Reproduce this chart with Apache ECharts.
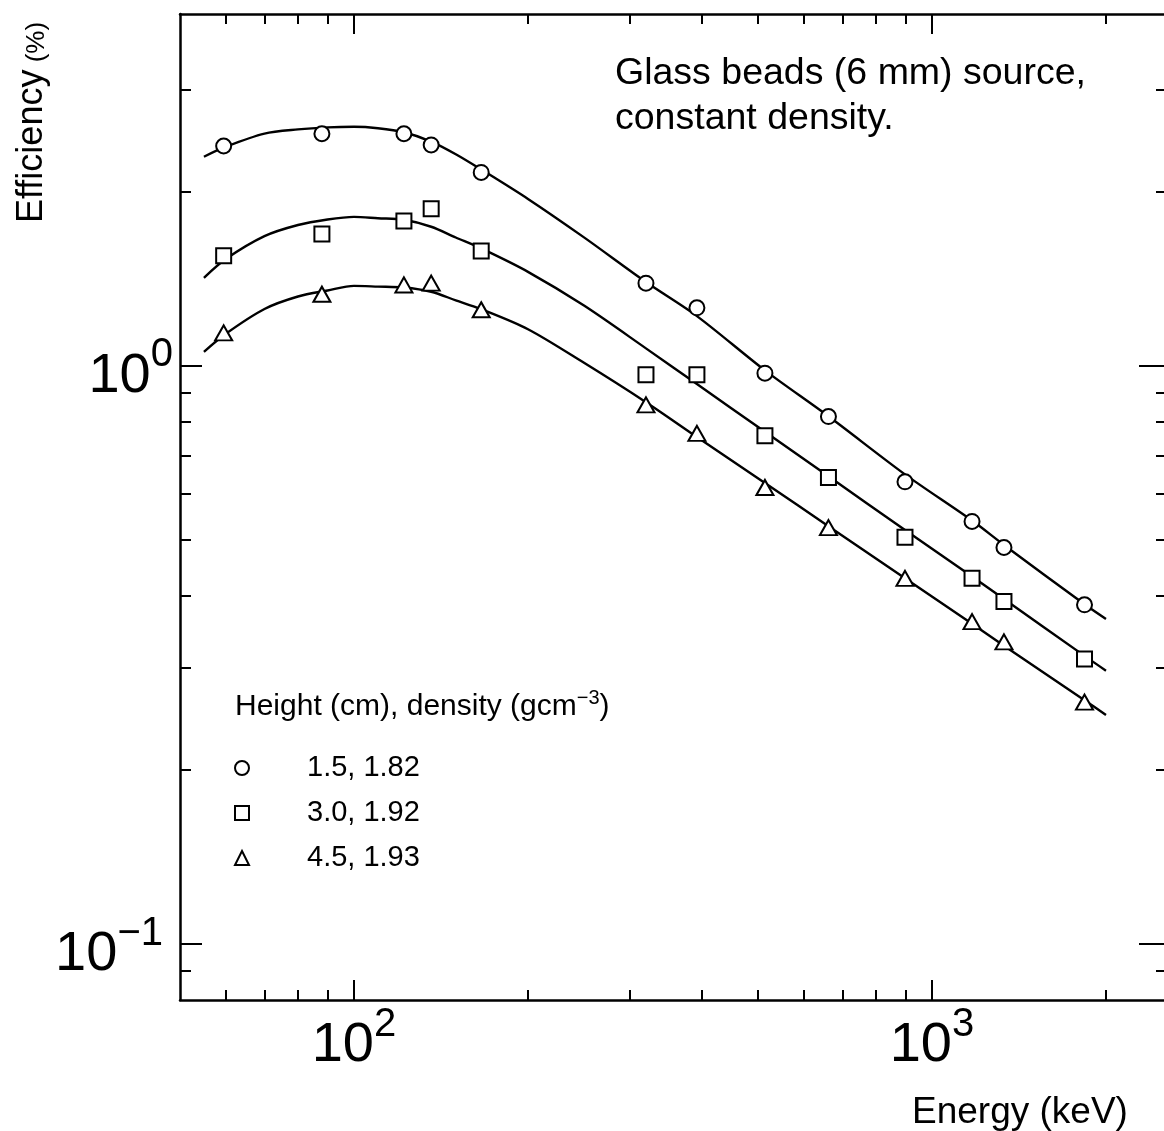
<!DOCTYPE html>
<html><head><meta charset="utf-8">
<script src="https://cdn.jsdelivr.net/npm/echarts@6/dist/echarts.min.js"></script>
<style>html,body{margin:0;padding:0;background:#fff;overflow:hidden}#c{width:1164px;height:1131px}</style>
</head><body><div id="c"></div>
<script>
// ---- data ----
const energies = [59.5, 88, 122, 136, 166, 320, 392, 514, 662, 898, 1173, 1332, 1836];
const eff_h15 = [2.40, 2.52, 2.52, 2.41, 2.16, 1.39, 1.26, 0.971, 0.817, 0.630, 0.538, 0.485, 0.386];
const eff_h30 = [1.55, 1.69, 1.78, 1.87, 1.58, 0.965, 0.965, 0.757, 0.641, 0.505, 0.429, 0.391, 0.311];
const eff_h45 = [1.14, 1.33, 1.38, 1.39, 1.25, 0.856, 0.764, 0.616, 0.525, 0.429, 0.361, 0.333, 0.262];
const fitEnergies = [55, 60, 70, 80, 90, 100, 110, 122, 136, 150, 166, 200, 250, 320, 392, 514, 662, 898, 1173, 1332, 1836, 2000];
const fit_h15 = [2.299, 2.393, 2.522, 2.564, 2.585, 2.591, 2.576, 2.535, 2.443, 2.323, 2.186, 1.944, 1.668, 1.396, 1.219, 0.982, 0.818, 0.649, 0.540, 0.490, 0.387, 0.365];
const fit_h30 = [1.420, 1.530, 1.676, 1.752, 1.791, 1.810, 1.800, 1.789, 1.740, 1.667, 1.596, 1.454, 1.271, 1.072, 0.930, 0.769, 0.644, 0.520, 0.432, 0.395, 0.315, 0.297];
const fit_h45 = [1.057, 1.136, 1.254, 1.318, 1.350, 1.375, 1.371, 1.366, 1.343, 1.298, 1.253, 1.157, 1.012, 0.865, 0.753, 0.627, 0.528, 0.429, 0.358, 0.328, 0.264, 0.249];
const seriesNames = ['1.5, 1.82', '3.0, 1.92', '4.5, 1.93'];
const xMajorTicks = [100, 1000];
const xMinorTicks = [60, 70, 80, 90, 200, 300, 400, 500, 600, 700, 800, 900, 2000];
const yMajorTicks = [0.1, 1];
const yMinorTicks = [0.09, 0.2, 0.3, 0.4, 0.5, 0.6, 0.7, 0.8, 0.9, 2, 3];
const titleText = 'Glass beads (6 mm) source,\nconstant density.';
const legendHeader = ['Height (cm), density (gcm', '\u22123', ')'];
const xName = 'Energy (keV)';
const yName = ['Efficiency', ' (%)'];

const FONT = '"Liberation Sans", Arial, Helvetica, sans-serif';
const X_MIN = 50, X_MAX = 2520, Y_MIN = 0.08, Y_MAX = 4.06;

function expLabel(v) {
  const e = Math.round(Math.log10(v));
  return '{b|10}{s|' + (e < 0 ? '\u2212' + (-e) : e) + '}' + (e < 0 ? '{g| }' : '');
}
const richLab = {
  b: {fontFamily: FONT, fontSize: 56, lineHeight: 56, verticalAlign: 'bottom', color: '#000'},
  s: {fontFamily: FONT, fontSize: 40, lineHeight: 99, verticalAlign: 'middle', color: '#000'},
  g: {fontFamily: FONT, fontSize: 10, width: 10, lineHeight: 20, verticalAlign: 'bottom'}
};
const lineS = {color: '#000', width: 2.5};
const tickS = {color: '#000', width: 2};

function xAx(pos, ticks, len, showLine, labels) {
  return {
    type: 'log', logBase: 10, position: pos, min: X_MIN, max: X_MAX, gridIndex: 0,
    axisLine: {show: showLine, onZero: false, lineStyle: lineS},
    axisTick: {show: true, inside: true, length: len, customValues: ticks, lineStyle: tickS},
    axisLabel: labels ? {show: true, customValues: ticks, margin: -25, formatter: expLabel, rich: richLab} : {show: false},
    splitLine: {show: false}, minorTick: {show: false}, minorSplitLine: {show: false}
  };
}
function yAx(pos, ticks, len, showLine, labels) {
  return {
    type: 'log', logBase: 10, position: pos, min: Y_MIN, max: Y_MAX, gridIndex: 0,
    axisLine: {show: showLine, onZero: false, lineStyle: lineS},
    axisTick: {show: true, inside: true, length: len, customValues: ticks, lineStyle: tickS},
    axisLabel: labels ? {show: true, customValues: ticks, margin: 7, padding: [0, 0, 21, 0], formatter: expLabel, rich: richLab} : {show: false},
    splitLine: {show: false}, minorTick: {show: false}, minorSplitLine: {show: false}
  };
}

const pairs = (xs, ys) => xs.map((x, i) => [x, ys[i]]);
const markStyle = {color: '#fff', borderColor: '#000', borderWidth: 2, opacity: 1};
function fitLine(ys) {
  return {type: 'line', data: pairs(fitEnergies, ys), smooth: 0.3, showSymbol: false, silent: true,
    lineStyle: {color: '#000', width: 2.4}, z: 2, xAxisIndex: 0, yAxisIndex: 0};
}
function pts(name, ys, symbol, size) {
  return {type: 'scatter', name: name, data: pairs(energies, ys), symbol: symbol, symbolSize: size,
    itemStyle: markStyle, z: 3, xAxisIndex: 0, yAxisIndex: 0};
}

const chart = echarts.init(document.getElementById('c'), null, {renderer: 'canvas'});
chart.setOption({
  animation: false,
  backgroundColor: '#fff',
  grid: {left: 180, top: 14, right: 0, bottom: 131, containLabel: false},
  xAxis: [
    xAx('bottom', xMinorTicks, 10, true, false),
    xAx('bottom', xMajorTicks, 20, false, true),
    xAx('top', xMinorTicks, 10, true, false),
    xAx('top', xMajorTicks, 20, false, false)
  ],
  yAxis: [
    yAx('left', yMinorTicks, 11, true, false),
    yAx('left', yMajorTicks, 22, false, true),
    yAx('right', yMinorTicks, 8, false, false),
    yAx('right', yMajorTicks, 25, false, false)
  ],
  title: [
    {text: titleText, left: 610, top: 46,
     textStyle: {fontFamily: FONT, fontSize: 37.5, fontWeight: 'normal', lineHeight: 45, color: '#000'}},
    {text: '{a|' + legendHeader[0] + '}{s|' + legendHeader[1] + '}{a|' + legendHeader[2] + '}', left: 230, top: 683,
     textStyle: {fontWeight: 'normal', rich: {
       a: {fontFamily: FONT, fontSize: 30, fontWeight: 'normal', lineHeight: 34, verticalAlign: 'bottom', color: '#000'},
       s: {fontFamily: FONT, fontSize: 20, fontWeight: 'normal', lineHeight: 20, verticalAlign: 'top', color: '#000'}
     }}},
    {text: xName, left: 907, top: 1089,
     textStyle: {fontFamily: FONT, fontSize: 37, fontWeight: 'normal', lineHeight: 37, color: '#000'}}
  ],
  legend: {
    data: seriesNames, orient: 'vertical', left: 229, top: 748, itemWidth: 14, itemHeight: 14, itemGap: 15,
    selectedMode: false,
    itemStyle: {color: '#fff', borderColor: '#000', borderWidth: 2},
    textStyle: {fontFamily: FONT, fontSize: 29, lineHeight: 30, color: '#000', padding: [0, 0, 0, 53]}
  },
  graphic: [{
    type: 'text', x: 32, y: 223, rotation: Math.PI / 2,
    style: {
      text: '{a|' + yName[0] + '}{b|' + yName[1] + '}',
      textAlign: 'left', textVerticalAlign: 'middle', fill: '#000',
      rich: {
        a: {fontFamily: FONT, fontSize: 36, lineHeight: 36, verticalAlign: 'bottom', fill: '#000'},
        b: {fontFamily: FONT, fontSize: 26, lineHeight: 30, verticalAlign: 'bottom', fill: '#000'}
      }
    }
  }],
  series: [
    fitLine(fit_h15), fitLine(fit_h30), fitLine(fit_h45),
    pts(seriesNames[0], eff_h15, 'circle', 15),
    pts(seriesNames[1], eff_h30, 'rect', 15),
    pts(seriesNames[2], eff_h45, 'triangle', [17, 15])
  ]
});
</script></body></html>
